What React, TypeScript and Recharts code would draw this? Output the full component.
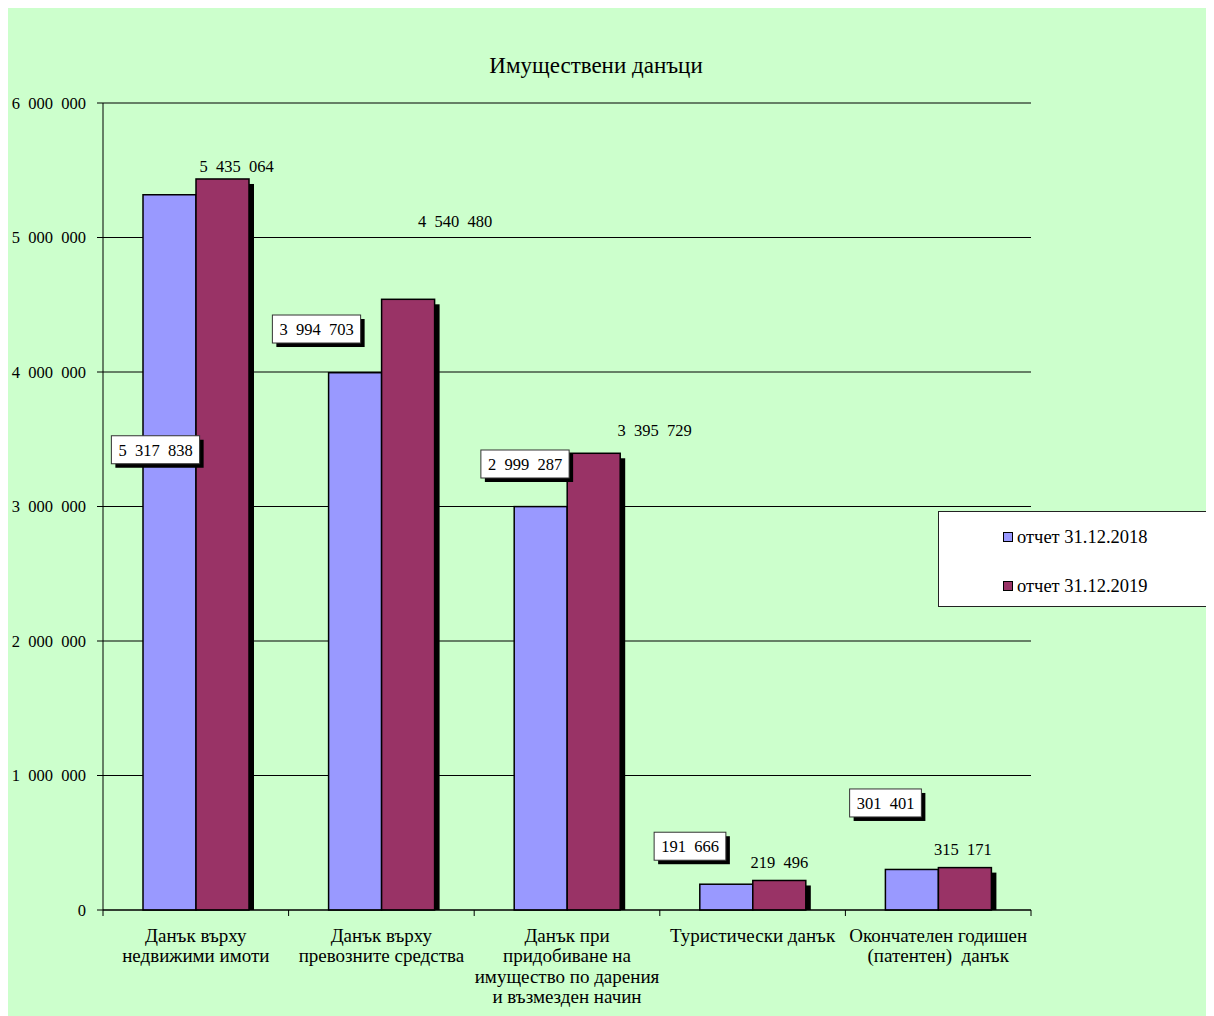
import { BarChart, Bar, XAxis, YAxis, CartesianGrid, Legend, LabelList } from 'recharts'

const categories = [
  'Данък върху\nнедвижими имоти',
  'Данък върху\nпревозните средства',
  'Данък при\nпридобиване на\nимущество по дарения\nи възмезден начин',
  'Туристически данък',
  'Окончателен годишен\n(патентен)  данък',
]
const report2018 = [5317838, 3994703, 2999287, 191666, 301401]
const report2019 = [5435064, 4540480, 3395729, 219496, 315171]
const yTicks = [0, 1000000, 2000000, 3000000, 4000000, 5000000, 6000000]
const seriesNames = ['отчет 31.12.2018', 'отчет 31.12.2019']

const data = categories.map((name, i) => ({ name, y2018: report2018[i], y2019: report2019[i] }))

const SERIF = 'Liberation Serif, DejaVu Serif, serif'
const W = 1206
const H = 1008
const MARGIN = { top: 95, right: 183, bottom: 0, left: 0 }
const Y_WIDTH = 95
const X_HEIGHT = 106
const BAND = (W - MARGIN.left - MARGIN.right - Y_WIDTH) / categories.length

// the labels were dragged around by hand in the original, so nudge each one from its bar top
const NUDGE_2018 = [[-14, 255], [-38.6, -43.7], [-15.7, -42.6], [-36.3, -38], [-26.4, -66.5]]
const NUDGE_2019 = [[14, -13], [47, -78], [61, -23], [0, -18.5], [-2, -18.6]]

const fmt = (v: number) => String(v).replace(/\B(?=(\d{3})+(?!\d))/g, '\u2002')

function ShadowBar(props: any) {
  const { x, y, width, height, fill } = props
  if (!height || height <= 0) return null
  return (
    <g>
      <rect x={x + 5} y={y + 5} width={width} height={Math.max(0, height - 5)} fill="#000" />
      <rect x={x} y={y} width={width} height={height} fill={fill} stroke="#000" strokeWidth={1.5} />
    </g>
  )
}

const makeLabel = (nudge: number[][], boxed: boolean) => (props: any) => {
  const { x, y, width, value, index } = props
  const [dx, dy] = nudge[index]
  const cx = x + width / 2 + dx
  const cy = y + dy
  const text = fmt(value)
  const bw = text.length * 8.25 + 14
  const bh = 28
  return (
    <g>
      {boxed && (
        <>
          <rect x={cx - bw / 2 + 4} y={cy - bh / 2 + 4} width={bw} height={bh} fill="#000" />
          <rect x={cx - bw / 2} y={cy - bh / 2} width={bw} height={bh} fill="#fff" stroke="#333" strokeWidth={1} />
        </>
      )}
      <text x={cx} y={cy} dy="0.35em" textAnchor="middle" fontFamily={SERIF} fontSize={16.5} fill="#000">
        {text}
      </text>
    </g>
  )
}

function CategoryTick(props: any) {
  const { x, y, payload, index } = props
  const lines = String(payload.value).split('\n')
  return (
    <g>
      <line x1={x - BAND / 2} y1={y} x2={x - BAND / 2} y2={y + 6} stroke="#000" />
      {index === categories.length - 1 && (
        <line x1={x + BAND / 2} y1={y} x2={x + BAND / 2} y2={y + 6} stroke="#000" />
      )}
      <text x={x} textAnchor="middle" fontFamily={SERIF} fontSize={19} fill="#000" style={{ whiteSpace: 'pre' }}>
        {lines.map((l, i) => (
          <tspan key={i} x={x} y={y + 25 + i * 20.6} dy="0.35em">
            {l}
          </tspan>
        ))}
      </text>
    </g>
  )
}

function LegendBox(props: any) {
  const items = props.payload || []
  return (
    <div
      style={{
        width: '100%',
        height: '100%',
        boxSizing: 'border-box',
        background: '#fff',
        border: '1px solid #222',
        position: 'relative',
        fontFamily: SERIF,
        fontSize: 18.5,
        color: '#000',
      }}
    >
      {items.map((it: any, i: number) => (
        <div
          key={it.value}
          style={{ position: 'absolute', left: 64, top: 12 + i * 49, height: 26, display: 'flex', alignItems: 'center' }}
        >
          <span
            style={{ width: 8, height: 8, background: it.color, border: '1.5px solid #000', marginRight: 4, display: 'inline-block' }}
          />
          <span>{it.value}</span>
        </div>
      ))}
    </div>
  )
}

export default function App() {
  return (
    <div
      style={{ position: 'relative', width: W + 20, height: H + 20, background: '#CCFFCC', overflow: 'hidden' }}
    >
      <style>{'html,body{overflow:hidden}'}</style>
      <div
        style={{
          position: 'absolute',
          left: 338,
          width: 500,
          top: 45,
          lineHeight: '26px',
          textAlign: 'center',
          fontFamily: SERIF,
          fontSize: 23,
          color: '#000',
        }}
      >
        Имуществени данъци
      </div>
      <BarChart width={W} height={H} data={data} margin={MARGIN} barSize={53} barGap={0}>
        <CartesianGrid vertical={false} stroke="#000" />
        <XAxis
          dataKey="name"
          interval={0}
          height={X_HEIGHT}
          tickSize={0}
          tickMargin={0}
          axisLine={{ stroke: '#000' }}
          tickLine={false}
          tick={<CategoryTick />}
        />
        <YAxis
          width={Y_WIDTH}
          domain={[0, 6000000]}
          ticks={yTicks}
          interval={0}
          tickSize={6}
          tickMargin={11}
          axisLine={{ stroke: '#000' }}
          tickLine={{ stroke: '#000' }}
          tickFormatter={fmt}
          tick={{ fontFamily: SERIF, fontSize: 16.5, fill: '#000' }}
        />
        <Legend
          layout="horizontal"
          verticalAlign="middle"
          align="center"
          content={<LegendBox />}
          wrapperStyle={{ left: 930, top: 503, width: 300, height: 96 }}
        />
        <Bar dataKey="y2018" name={seriesNames[0]} fill="#9999FF" shape={<ShadowBar />} isAnimationActive={false}>
          <LabelList dataKey="y2018" content={makeLabel(NUDGE_2018, true)} />
        </Bar>
        <Bar dataKey="y2019" name={seriesNames[1]} fill="#993366" shape={<ShadowBar />} isAnimationActive={false}>
          <LabelList dataKey="y2019" content={makeLabel(NUDGE_2019, false)} />
        </Bar>
      </BarChart>
    </div>
  )
}
